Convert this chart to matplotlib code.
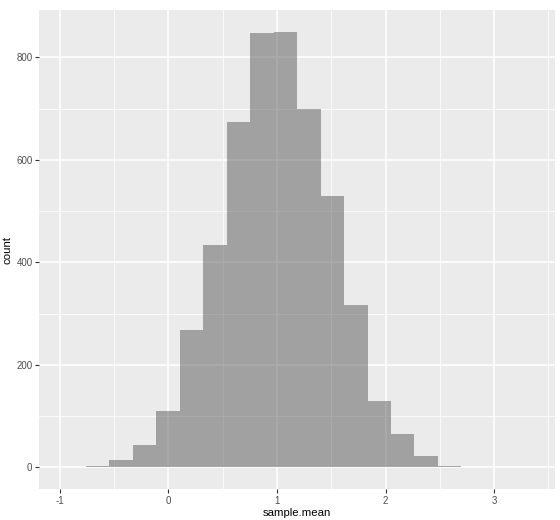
import numpy as np
import matplotlib.pyplot as plt

# histogram of sample means, 16 bins
bin_left = -0.758
bin_width = 0.216
counts = [2, 15, 43, 110, 268, 434, 674, 848, 850, 700, 530, 317, 129, 64, 21, 2]

x_ticks = [-1, 0, 1, 2, 3]
x_minor = [-0.5, 0.5, 1.5, 2.5, 3.5]
y_ticks = [0, 200, 400, 600, 800]
y_minor = [100, 300, 500, 700]

edges = bin_left + bin_width * np.arange(len(counts) + 1)

plt.rcParams['font.family'] = ['Liberation Sans', 'DejaVu Sans']

fig = plt.figure(figsize=(5.6, 5.2), dpi=100)
ax = fig.add_axes([39 / 560, 1 - 489 / 520, (555 - 39) / 560, (489 - 10) / 520])
ax.set_facecolor('#EBEBEB')

# grid, ggplot style
for v in x_minor:
    ax.axvline(v, color='white', lw=0.55, zorder=0)
for v in y_minor:
    ax.axhline(v, color='white', lw=0.55, zorder=0)
for v in x_ticks:
    ax.axvline(v, color='white', lw=1.1, zorder=0)
for v in y_ticks:
    ax.axhline(v, color='white', lw=1.1, zorder=0)

ax.bar(edges[:-1], counts, width=bin_width, align='edge',
       color='#595959', alpha=0.5, linewidth=0, zorder=2)

ax.set_xlim(-1.19, 3.56)
ax.set_ylim(-42.5, 892.5)
ax.set_xticks(x_ticks)
ax.set_yticks(y_ticks)
ax.set_xticklabels([str(t) for t in x_ticks])
ax.set_yticklabels([str(t) for t in y_ticks])

for s in ax.spines.values():
    s.set_visible(False)
ax.tick_params(colors='#333333', labelcolor='#4D4D4D', labelsize=7,
               length=2.7, width=0.8, pad=2)

ax.set_xlabel('sample.mean', fontsize=8.2, color='black', labelpad=2)
ax.set_ylabel('count', fontsize=8.2, color='black', labelpad=3)

fig.savefig('out.png', dpi=100, facecolor='white')
